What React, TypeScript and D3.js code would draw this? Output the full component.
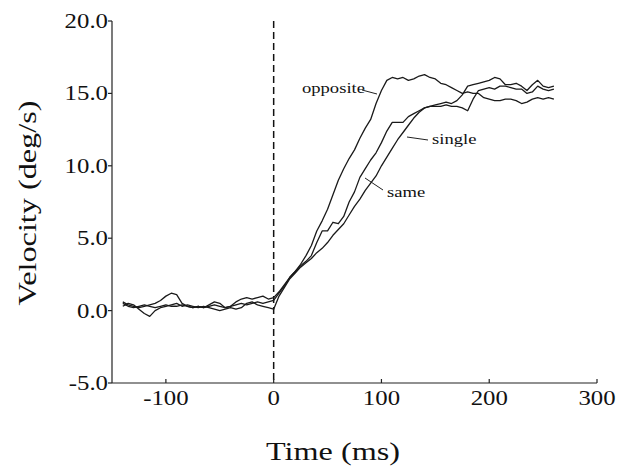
import React from "react";
import * as d3 from "d3";

const times: number[] = d3.range(-140, 261, 5);

const opposite: number[] = [
  0.5, 0.3, 0.2, 0.3, 0.4, 0.3, 0.2, 0.3, 0.4, 0.3, 0.3, 0.4, 0.3, 0.2, 0.3, 0.2, 0.3, 0.4, 0.3, 0.2, 0.3, 0.4, 0.5, 0.4, 0.5, 0.6, 0.5, 0.6, 0.7,
  1.2, 1.7, 2.3, 2.7, 3.2, 3.8, 4.5, 5.5, 6.2, 7.0, 8.0, 9.0, 9.8, 10.5, 11.1, 11.9, 12.6, 13.2, 14.3, 15.2,
  15.9, 16.1, 16.0, 16.1, 15.9, 16.0, 16.2, 16.3, 16.1, 16.0,
  15.7, 15.6, 15.4, 15.2, 15.0, 15.1, 15.0, 15.0, 14.7, 14.6,
  14.5, 14.5, 14.6, 14.6, 14.5, 14.3, 14.4, 14.6, 14.7, 14.6, 14.7, 14.6,
];

const same: number[] = [
  0.6, 0.4, 0.3, 0.2, 0.3, 0.4, 0.5, 0.7, 1.0, 1.2, 1.1, 0.5, 0.3, 0.2, 0.3, 0.2, 0.4, 0.6, 0.5, 0.2, 0.3, 0.6, 0.8, 0.9, 0.8, 0.9, 1.0, 0.8, 0.9,
  1.3, 1.8, 2.3, 2.7, 3.1, 3.4, 3.8, 4.7, 5.5, 5.5, 6.1, 6.0, 6.5, 7.5, 8.2, 9.2, 9.8, 10.4, 10.9, 11.6,
  12.4, 13.0, 13.0, 13.0, 13.4, 13.6, 13.8, 14.0, 14.1, 14.2,
  14.3, 14.4, 14.3, 14.5, 14.9, 15.5, 15.6, 15.7, 15.8, 15.9,
  16.1, 16.0, 15.6, 15.6, 15.7, 15.5, 15.2, 15.6, 15.9, 15.5, 15.4, 15.5,
];

const single: number[] = [
  0.3, 0.5, 0.4, 0.1, -0.2, -0.4, 0.0, 0.2, 0.3, 0.4, 0.5, 0.3, 0.4, 0.3, 0.2, 0.3, 0.2, 0.1, 0.0, 0.1, 0.2, 0.1, 0.2, 0.5, 0.6, 0.4, 0.3, 0.2, 0.1,
  1.0, 1.6, 2.2, 2.6, 3.0, 3.3, 3.6, 4.0, 4.3, 4.7, 5.2, 5.6, 6.0, 6.6, 7.2, 7.7, 8.3, 8.8, 9.3, 10.0,
  10.6, 11.2, 11.8, 12.3, 12.8, 13.3, 13.7, 14.0, 14.1, 14.1,
  14.1, 14.2, 14.1, 14.1, 14.0, 13.8, 14.6, 15.2, 15.3, 15.4,
  15.3, 15.5, 15.5, 15.4, 15.3, 15.3, 15.0, 15.1, 15.5, 15.3, 15.2, 15.3,
];

const xTicks: number[] = [-100, 0, 100, 200, 300];
const yTicks: number[] = [-5, 0, 5, 10, 15, 20];

const FONT = "'Liberation Serif', 'Times New Roman', serif";
const SX = 1.24;

function T(props: { x: number; y: number; size: number; anchor?: string; rotate?: number; children: React.ReactNode }) {
  const { x, y, size, anchor = "start", rotate = 0, children } = props;
  return (
    <text
      transform={`translate(${x},${y}) rotate(${rotate}) scale(${SX},1)`}
      fontFamily={FONT}
      fontSize={size}
      textAnchor={anchor}
      fill="#111"
    >
      {children}
    </text>
  );
}

export default function App() {
  const W = 618, H = 466;
  const x = d3.scaleLinear().domain([-150, 300]).range([112, 597]);
  const y = d3.scaleLinear().domain([-5, 20]).range([383, 21]);
  const line = d3.line<number>().x((_, i) => x(times[i])).y((d) => y(d));
  const series = [opposite, same, single];

  return (
    <svg width={W} height={H} style={{ position: "absolute", left: 0, top: 0, background: "#fff" }}>
      <rect width={W} height={H} fill="#fff" />
      {/* dashed stimulus line */}
      <line x1={x(0)} x2={x(0)} y1={y(20)} y2={y(-5)} stroke="#111" strokeWidth={1.5} strokeDasharray="7,4" />
      {/* data */}
      {series.map((s, i) => (
        <path key={i} d={line(s) || ""} fill="none" stroke="#1a1a1a" strokeWidth={1.3} strokeLinejoin="round" />
      ))}
      {/* axes */}
      <line x1={x(-150)} x2={x(-150)} y1={y(20)} y2={y(-5)} stroke="#222" strokeWidth={1.2} />
      <line x1={x(-150)} x2={x(300)} y1={y(-5)} y2={y(-5)} stroke="#222" strokeWidth={1.2} />
      {yTicks.map((t) => (
        <g key={"y" + t}>
          <line x1={x(-150) - 4} x2={x(-150)} y1={y(t)} y2={y(t)} stroke="#222" strokeWidth={1.2} />
          <T x={x(-150) - 4} y={y(t) + 7} size={20} anchor="end">{t.toFixed(1)}</T>
        </g>
      ))}
      {xTicks.map((t) => (
        <g key={"x" + t}>
          <line x1={x(t)} x2={x(t)} y1={y(-5)} y2={y(-5) - 4} stroke="#222" strokeWidth={1.2} />
          <T x={x(t)} y={405} size={20} anchor="middle">{String(t)}</T>
        </g>
      ))}
      <T x={333} y={460} size={26} anchor="middle">Time (ms)</T>
      <T x={36} y={203} size={26} anchor="middle" rotate={-90}>Velocity (deg/s)</T>
      {/* labels */}
      <line x1={362} y1={90} x2={377} y2={94} stroke="#222" strokeWidth={1} />
      <T x={302} y={93} size={15}>opposite</T>
      <line x1={407} y1={137} x2={428} y2={140} stroke="#222" strokeWidth={1} />
      <T x={432} y={144} size={15}>single</T>
      <line x1={365} y1={178} x2={383} y2={190} stroke="#222" strokeWidth={1} />
      <T x={387} y={197} size={15}>same</T>
    </svg>
  );
}
